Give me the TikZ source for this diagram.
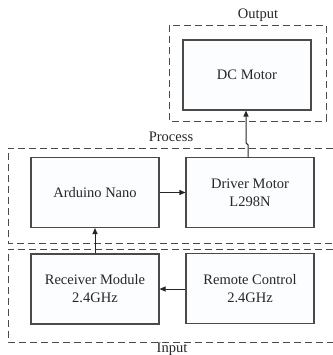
\documentclass[tikz,border=0pt]{standalone}
\usepackage{fontspec}
\setmainfont{Liberation Serif}
\usetikzlibrary{arrows.meta}
\definecolor{linegray}{HTML}{4A4A4A}
\definecolor{txtgray}{HTML}{262626}
\definecolor{boxfill}{HTML}{FBFDFF}
\tikzset{
  blockbox/.style={draw=linegray, line width=1.1pt, fill=boxfill, minimum width=128pt, minimum height=70pt, inner sep=0pt, align=center, text=txtgray, font=\fontsize{14.5}{18}\selectfont},
  groupline/.style={draw=linegray, line width=0.9pt, dash pattern=on 7pt off 4pt},
  grouplabel/.style={text=txtgray, font=\fontsize{14.5}{18}\selectfont, inner sep=0pt},
  arr/.style={draw=txtgray, line width=1pt, -{Triangle[length=6pt,width=5pt]}}
}
\begin{document}
\begin{tikzpicture}[x=1pt,y=-1pt]
\useasboundingbox[fill=white] (0,0) rectangle (332,355);
% group frames
\draw[groupline] (169,25) rectangle (326,121);
\draw[groupline] (333,148) -- (8,148) -- (8,243) -- (333,243);
\draw[groupline] (333,249) -- (8,249) -- (8,342) -- (333,342);
\node[grouplabel] (lout) at (258,15) {Output};
\node[grouplabel] (lproc) at (171,137) {Process};
\node[grouplabel] (lin) at (172,349) {Input};
% blocks
\node[blockbox] (dc) at (247,75) {DC Motor};
\node[blockbox] (ard) at (95,192.5) {Arduino Nano};
\node[blockbox] (drv) at (250,192.5) {Driver Motor\\L298N};
\node[blockbox] (rcv) at (95,289) {Receiver Module\\2.4GHz};
\node[blockbox] (rem) at (250,288.5) {Remote Control\\2.4GHz};
% connectors
\draw[arr] ([xshift=-2pt]drv.north) -- ++(0,-12) -- ++(-2,-2) -- ([xshift=-1pt]dc.south);
\draw[arr] (ard.east) -- (drv.west);
\draw[arr] (rcv.north) -- (ard.south);
\draw[arr] (rem.west |- rcv.east) -- (rcv.east);
\end{tikzpicture}
\end{document}
